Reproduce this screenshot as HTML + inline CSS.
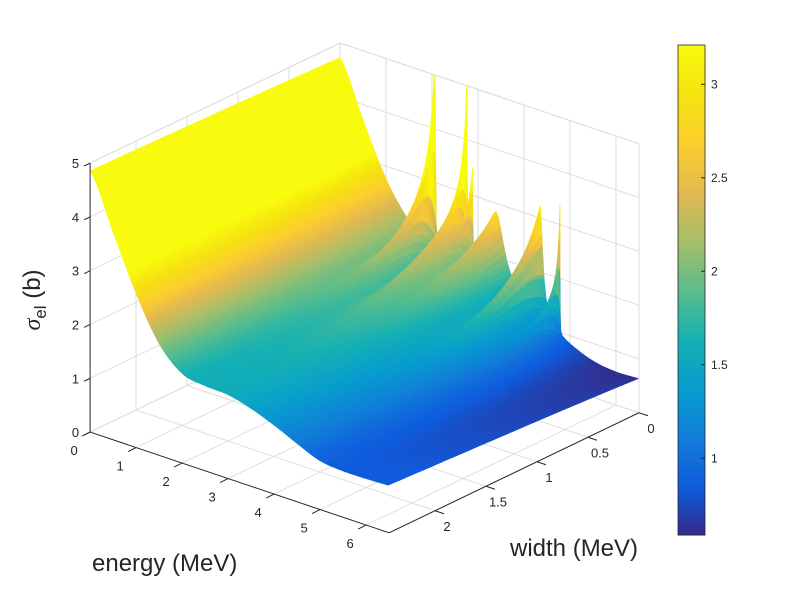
<!DOCTYPE html>
<html><head><meta charset="utf-8"><style>
body{margin:0;background:#fff}
svg text{font-family:"Liberation Sans",sans-serif;fill:#262626}
</style></head><body>
<svg id="chart" width="800" height="600" viewBox="0 0 800 600" xmlns="http://www.w3.org/2000/svg">
<g id="grid"></g>
<g id="surf"></g>
<g id="axes"></g>
<g id="cbar"></g>
<text transform="translate(40,300) rotate(-90)" font-size="24" text-anchor="middle"><tspan font-style="italic" font-family="Liberation Serif">σ</tspan><tspan font-size="17" dy="6">el</tspan><tspan dy="-6"> (b)</tspan></text>
<text x="92" y="571" font-size="24">energy (MeV)</text>
<text x="510" y="556" font-size="24">width (MeV)</text>
</svg>
<script>
// background cross section sampled at energies (back edge w=0, front edge w=max)
const bgEnergies=[0,0.5,1,1.5,2,2.5,3,3.5,4,4.5,5,5.5,6,6.5];
const bgBack=[4.72,3.7,2.75,2.1,1.68,1.5,1.45,1.35,1.2,1.0,0.8,0.65,0.6,0.62];
const bgFront=[4.85,3.85,2.85,2.05,1.62,1.52,1.49,1.38,1.22,1.03,0.87,0.84,0.85,0.87];
// resonances
const resEnergies=[2.07,2.76,2.88,3.39,4.35,4.78];
const resHeights=[3.9,3.5,1.8,1.45,2.1,2.4];
const resWidths=[0.01,0.008,0.01,0.22,0.07,0.004];
const eTicks=[0,1,2,3,4,5,6];
const wTicks=[0,0.5,1,1.5,2];
const zTicks=[0,1,2,3,4,5];
const cTicks=[1,1.5,2,2.5,3];
const EMAX=6.5,WMAX=2.45,ZMAX=5,CMIN=0.59,CMAX=3.21;
const NS="http://www.w3.org/2000/svg";
function P(e,w,z){return [340+46*e-102*w,312+15.5*e+49*w-53.8*z];}
function spline(vals,e){const n=vals.length;let i=0;while(i<n-2&&e>bgEnergies[i+1])i++;const t=(e-bgEnergies[i])/(bgEnergies[i+1]-bgEnergies[i]);
const p0=vals[Math.max(0,i-1)],p1=vals[i],p2=vals[i+1],p3=vals[Math.min(n-1,i+2)];
return 0.5*((2*p1)+(-p0+p2)*t+(2*p0-5*p1+4*p2-p3)*t*t+(-p0+3*p1-3*p2+p3)*t*t*t);}
function bg(e,w){const f=w/WMAX;return spline(bgBack,e)*(1-f)+spline(bgFront,e)*f;}
function sigma(e,w){let s=bg(e,w);for(let i=0;i<resEnergies.length;i++){const g=resWidths[i]+0.3*w;const d=e-resEnergies[i];const amp=resHeights[i]*Math.sqrt(resWidths[i]/g)*Math.exp(-w/0.8);s+=amp*g*g/(d*d+g*g);}return Math.min(s,ZMAX);}
const stops=[[53,42,135],[15,92,221],[18,125,216],[7,156,207],[21,177,180],[89,189,140],[165,190,107],[225,185,82],[252,206,46],[245,227,15],[249,251,14]];
function cmap(v){let t=(v-CMIN)/(CMAX-CMIN);t=Math.max(0,Math.min(1,t))*10;const i=Math.min(9,Math.floor(t)),f=t-i;const a=stops[i],b=stops[i+1];return `rgb(${Math.round(a[0]+(b[0]-a[0])*f)},${Math.round(a[1]+(b[1]-a[1])*f)},${Math.round(a[2]+(b[2]-a[2])*f)})`;}
function line(g,a,b,col,w,name){const l=document.createElementNS(NS,'line');l.setAttribute('x1',a[0]);l.setAttribute('y1',a[1]);l.setAttribute('x2',b[0]);l.setAttribute('y2',b[1]);l.setAttribute('stroke',col);l.setAttribute('stroke-width',w);


g.appendChild(l);}
function text(g,x,y,s,anchor,size,name){const t=document.createElementNS(NS,'text');t.setAttribute('x',x);t.setAttribute('y',y);t.setAttribute('text-anchor',anchor);t.setAttribute('font-size',size);t.textContent=s;


g.appendChild(t);}
// grid
const G=document.getElementById('grid'),gc='#dedede';
zTicks.forEach(z=>{line(G,P(0,0,z),P(0,WMAX,z),gc,1,'left-wall-gridline');line(G,P(0,0,z),P(EMAX,0,z),gc,1,'back-wall-gridline');});
wTicks.forEach(w=>{line(G,P(0,w,0),P(0,w,ZMAX),gc,1,'left-wall-gridline');line(G,P(0,w,0),P(EMAX,w,0),gc,1,'floor-gridline');});
eTicks.forEach(e=>{line(G,P(e,0,0),P(e,0,ZMAX),gc,1,'back-wall-gridline');line(G,P(e,0,0),P(e,WMAX,0),gc,1,'floor-gridline');});
line(G,P(EMAX,0,0),P(EMAX,0,ZMAX),gc,1,'box-edge');line(G,P(0,WMAX,ZMAX),P(0,0,ZMAX),gc,1,'box-edge');line(G,P(EMAX,0,ZMAX),P(0,0,ZMAX),gc,1,'box-edge');line(G,P(EMAX,0,0),P(EMAX,WMAX,0),gc,1,'box-edge');
// surface grid
let es=[];for(let e=0;e<=EMAX+1e-9;e+=0.04)es.push(e);
resEnergies.forEach((E,i)=>{const g=resWidths[i];[-8,-4,-2,-1,-0.5,0,0.5,1,2,4,8].forEach(k=>es.push(E+k*g*(1+Math.abs(k)*0.2)));});
es=es.filter(e=>e>=0&&e<=EMAX).sort((a,b)=>a-b);
const ws=[];const NW=44;for(let j=0;j<=NW;j++){const t=j/NW;ws.push(WMAX*t*t);}
const S=document.getElementById('surf');
const Z=ws.map(w=>es.map(e=>sigma(e,w)));
for(let j=0;j<ws.length-1;j++){for(let i=0;i<es.length-1;i++){
const z1=Z[j][i],z2=Z[j][i+1],z3=Z[j+1][i+1],z4=Z[j+1][i];
const pts=[P(es[i],ws[j],z1),P(es[i+1],ws[j],z2),P(es[i+1],ws[j+1],z3),P(es[i],ws[j+1],z4)];
const c=cmap((z1+z2+z3+z4)/4);
const p=document.createElementNS(NS,'polygon');p.setAttribute('points',pts.map(q=>q[0].toFixed(1)+','+q[1].toFixed(1)).join(' '));p.setAttribute('fill',c);p.setAttribute('stroke',c);p.setAttribute('stroke-width','0.6');


S.appendChild(p);}}
// axes
const A=document.getElementById('axes'),ac='#262626';
line(A,P(0,WMAX,0),P(0,WMAX,ZMAX),ac,1,'z-axis-line');
line(A,P(0,WMAX,0),P(EMAX,WMAX,0),ac,1,'energy-axis-line');
line(A,P(EMAX,WMAX,0),P(EMAX,0,0),ac,1,'width-axis-line');
zTicks.forEach(z=>{const p=P(0,WMAX,z);line(A,p,[p[0]-6,p[1]+3],ac,1,'z-tick');text(A,p[0]-11,p[1]+5,String(z),'end',13,'z-tick-label');});
eTicks.forEach(e=>{const p=P(e,WMAX,0);line(A,p,[p[0]-8,p[1]+4],ac,1,'energy-tick');text(A,p[0]-16,p[1]+23,String(e),'middle',13,'energy-tick-label');});
wTicks.forEach(w=>{const p=P(EMAX,w,0);line(A,p,[p[0]+9,p[1]+3],ac,1,'width-tick');text(A,p[0]+12,p[1]+20,String(w),'middle',13,'width-tick-label');});
// colorbar
const C=document.getElementById('cbar');
const cy0=45,cy1=535;
for(let y=cy0;y<cy1;y+=2){const v=CMAX-(y-cy0)/(cy1-cy0)*(CMAX-CMIN);const r=document.createElementNS(NS,'rect');r.setAttribute('x',678);r.setAttribute('y',y);r.setAttribute('width',27);r.setAttribute('height',2.5);r.setAttribute('fill',cmap(v));


C.appendChild(r);}
const fr=document.createElementNS(NS,'rect');fr.setAttribute('x',678);fr.setAttribute('y',cy0);fr.setAttribute('width',27);fr.setAttribute('height',cy1-cy0);fr.setAttribute('fill','none');fr.setAttribute('stroke','#262626');fr.setAttribute('stroke-width','0.8');


C.appendChild(fr);
cTicks.forEach(v=>{const y=cy0+(CMAX-v)/(CMAX-CMIN)*(cy1-cy0);line(C,[701,y],[705,y],ac,1,'colorbar-tick');text(C,711,y+4,String(v),'start',12,'colorbar-tick-label');});
</script>
</body></html>
